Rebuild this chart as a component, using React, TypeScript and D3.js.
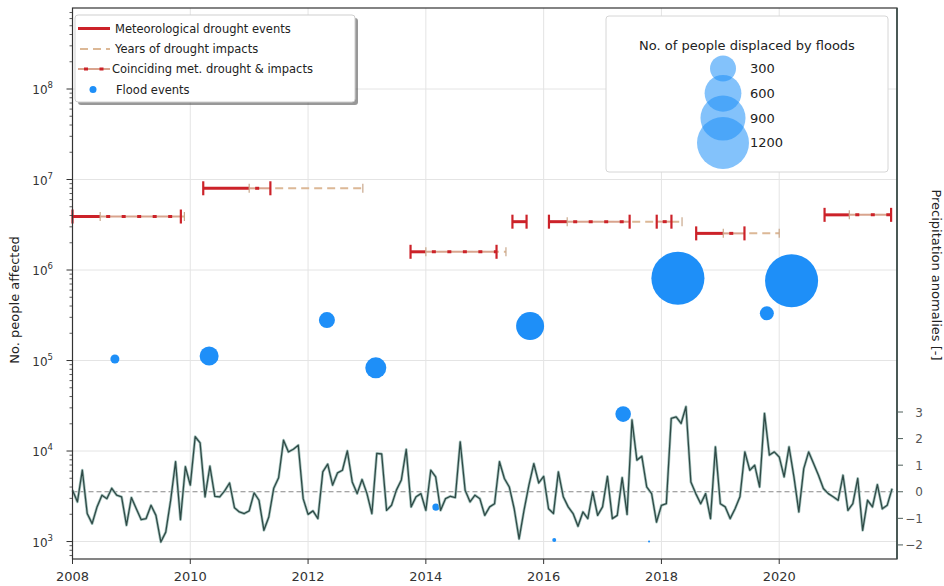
import React from 'react';
import * as d3 from 'd3';

const W = 944;
const H = 586;
const FONT = 'DejaVu Sans, sans-serif';

const RED = '#cc2229';
const TAN = '#dcb896';
const BLUE = '#1e8ff8';

// monthly precipitation anomaly, Jan 2008 .. Dec 2021
const precipStartYear = 2008;
const precipAnomaly = [
  0.06, -0.38, 0.81, -0.82, -1.2, -0.57, -0.13, -0.26, 0.13, -0.13, -0.19, -1.26,
  -0.22, -0.64, -1.05, -1.01, -0.51, -0.89, -1.89, -1.52, -0.32, 1.13, -1.05, 0.94,
  0.25, 2.07, 1.84, -0.19, 0.96, -0.17, -0.19, 0.03, 0.33, -0.6, -0.76, -0.82,
  -0.72, -0.04, -0.32, -1.45, -0.95, 0.13, 0.53, 1.94, 1.5, 1.6, 1.75, -0.26,
  -0.85, -0.72, -1.01, 0.75, 1.04, 0.25, 0.71, 0.81, 1.54, 0.37, -0.07, 0.46,
  -0.07, -0.82, 1.44, 1.42, -0.7, -0.51, 0.06, 0.44, 1.59, -0.57, -0.19, -0.07,
  -0.7, 0.81, 0.56, -0.7, -0.26, -0.17, -0.22, 1.88, 0.06, -0.38, -0.13, -0.26,
  -0.89, -0.57, -0.45, 1.13, 0.5, 0.18, -0.64, -1.77, -0.7, 0.25, 1.06, 0.33,
  0.58, -0.64, -0.82, 0.75, -0.19, -0.57, -0.82, -1.3, -0.76, -1.01, 0.0, -0.89,
  -0.57, 0.58, -1.01, -0.89, 0.53, -0.85, 2.7, 1.19, 1.34, 0.18, -0.07, -1.14,
  -0.51, -0.45, 2.76, 2.82, 2.57, 3.2, 0.37, -0.07, -0.45, -0.07, -1.01, 1.69,
  -0.45, -0.57, -1.01, -0.64, -0.19, 1.5, 0.81, 1.0, 0.18, 2.95, 1.38, 1.5,
  1.31, 0.56, 1.69, 0.56, -0.76, 0.87, 1.5, 1.06, 0.62, 0.12, -0.07, -0.19,
  -0.32, 0.62, -0.7, -0.45, 0.5, -1.45, -0.32, -0.57, 0.27, -0.64, -0.51, 0.12,
];

// flood events
const floodYear = [2008.72, 2010.32, 2012.32, 2013.15, 2014.17, 2015.77, 2016.18, 2017.35, 2017.79, 2018.28, 2019.79, 2020.21];
const floodAffected = [1.04e5, 1.12e5, 2.8e5, 8.3e4, 2.4e3, 2.4e5, 1.04e3, 2.56e4, 1.0e3, 8.1e5, 3.32e5, 7.6e5];
const floodDisplaced = [36, 160, 114, 196, 22, 348, 7, 108, 2, 1250, 87, 1250];

// meteorological drought events
const metLevel = [3.9e6, 8.0e6, 1.59e6, 3.42e6, 3.42e6, 3.42e6, 2.54e6, 4.07e6];
const metStart = [2008.0, 2010.22, 2013.74, 2015.47, 2016.09, 2017.92, 2018.59, 2020.77];
const metEnd = [2009.84, 2011.36, 2015.2, 2015.71, 2017.46, 2018.17, 2019.41, 2021.9];

// years of drought impacts
const impactLevel = [3.9e6, 8.0e6, 1.59e6, 3.42e6, 2.54e6, 4.07e6];
const impactStart = [2008.47, 2011.0, 2014.0, 2016.4, 2019.05, 2021.19];
const impactEnd = [2009.9, 2012.93, 2015.36, 2018.35, 2020.0, 2021.9];

const xTickYears = [2008, 2010, 2012, 2014, 2016, 2018, 2020];
const precipTicks = [-2, -1, 0, 1, 2, 3];
const sizeLegend = [300, 600, 900, 1200];

export default function App() {
  const top = 8;
  const bottom = 559;
  const x = d3.scaleLinear().domain([2008, 2022]).range([72.5, 897]);
  const y = d3.scaleLog().domain([Math.pow(10, 2.807), Math.pow(10, 8.895)]).range([bottom, top]);
  const yP = d3.scaleLinear().domain([-2.53, 18.2]).range([bottom, top]);
  const r = d3.scaleSqrt().domain([0, 1200]).range([0, 26]);
  const [x0, x1] = x.range();

  const logTicks = y.ticks().filter(v => y(v) <= bottom && y(v) >= top);
  const isMajor = (v: number) => Math.abs(Math.log10(v) - Math.round(Math.log10(v))) < 1e-6;
  const majors = logTicks.filter(isMajor);
  const minors = logTicks.filter(v => !isMajor(v));

  const precipLine = d3.line<number>()
    .x((_, i) => x(precipStartYear + i / 12))
    .y(v => yP(v));
  const pathD = precipLine(precipAnomaly) || '';

  // overlap of met drought with impact years at same level
  const overlaps = metStart.map((s, i) => {
    const e = metEnd[i];
    const j = impactLevel.findIndex((lv, k) => lv === metLevel[i] && impactStart[k] < e && impactEnd[k] > s);
    if (j < 0) return null;
    return [Math.max(s, impactStart[j]), Math.min(e, impactEnd[j])];
  });

  const coincide = (xa: number, xb: number, yy: number, key: string) => (
    <g key={key}>
      <line x1={xa} x2={xb} y1={yy} y2={yy} stroke="#d9a48e" strokeWidth={2} />
      <line x1={xa} x2={xb} y1={yy} y2={yy} stroke={RED} strokeWidth={3} strokeDasharray="4,11.5" strokeDashoffset={-6} />
    </g>
  );

  return (
    <svg width={W} height={H} style={{ position: 'absolute', left: 0, top: 0, background: '#fff' }} fontFamily={FONT}>
      <rect x={0} y={0} width={W} height={H} fill="#fff" />
      {/* grid */}
      <g stroke="#e4e4e4" strokeWidth={1}>
        {xTickYears.slice(1).map(t => (
          <line key={t} x1={x(t)} x2={x(t)} y1={top} y2={bottom} />
        ))}
        {majors.map(v => (
          <line key={v} x1={x0} x2={x1} y1={y(v)} y2={y(v)} />
        ))}
      </g>

      {/* drought impacts */}
      {impactLevel.map((lv, i) => (
        <g key={'imp' + i} stroke={TAN}>
          <line x1={x(impactStart[i])} x2={x(impactEnd[i])} y1={y(lv)} y2={y(lv)} strokeWidth={2} strokeDasharray="8,5" />
        </g>
      ))}

      {/* met drought */}
      {metLevel.map((lv, i) => {
        const yy = y(lv);
        const ov = overlaps[i];
        const segs = ov ? [[metStart[i], ov[0]], [ov[1], metEnd[i]]] : [[metStart[i], metEnd[i]]];
        return (
          <g key={'met' + i}>
            <line x1={x(metStart[i])} x2={x(metEnd[i])} y1={yy} y2={yy} stroke="#fff" strokeWidth={3} />
            {segs.filter(s => s[1] > s[0]).map((s, k) => (
              <line key={k} x1={x(s[0])} x2={x(s[1])} y1={yy} y2={yy} stroke={RED} strokeWidth={3} />
            ))}
            {ov && coincide(x(ov[0]), x(ov[1]), yy, 'c' + i)}
          </g>
        );
      })}

      {/* caps */}
      {impactLevel.map((lv, i) => (
        <g key={'ic' + i} stroke="#c9a88c" strokeWidth={1.2}>
          <line x1={x(impactStart[i])} x2={x(impactStart[i])} y1={y(lv) - 4.5} y2={y(lv) + 4.5} />
          <line x1={x(impactEnd[i])} x2={x(impactEnd[i])} y1={y(lv) - 4.5} y2={y(lv) + 4.5} />
        </g>
      ))}
      {metLevel.map((lv, i) => (
        <g key={'mc' + i} stroke={RED} strokeWidth={2.2}>
          <line x1={x(metStart[i])} x2={x(metStart[i])} y1={y(lv) - 7} y2={y(lv) + 7} />
          <line x1={x(metEnd[i])} x2={x(metEnd[i])} y1={y(lv) - 7} y2={y(lv) + 7} />
        </g>
      ))}

      {/* floods */}
      {floodYear.map((t, i) => (
        <circle key={'f' + i} cx={x(t)} cy={y(floodAffected[i])} r={Math.max(1, r(floodDisplaced[i]))} fill={BLUE} />
      ))}

      {/* precipitation anomalies */}
      <line x1={x0} x2={x1} y1={yP(0)} y2={yP(0)} stroke="#888" strokeWidth={1.2} strokeDasharray="5,3" />
      <path d={pathD} fill="none" stroke="#a9c6c1" strokeWidth={2.8} strokeLinejoin="round" />
      <path d={pathD} fill="none" stroke="#2f4a46" strokeWidth={1.3} strokeLinejoin="round" />

      {/* spines */}
      <rect x={x0} y={top} width={x1 - x0} height={bottom - top} fill="none" stroke="#333" strokeWidth={1.2} />
      <line x1={x1} x2={x1} y1={top} y2={bottom} stroke="#3d4f4b" strokeWidth={1.6} />

      {/* x axis */}
      {xTickYears.map(t => (
        <g key={'xt' + t}>
          <line x1={x(t)} x2={x(t)} y1={bottom} y2={bottom + 5} stroke="#333" />
          <text x={x(t)} y={581} fontSize={13} textAnchor="middle" fill="#333">{t}</text>
        </g>
      ))}

      {/* left log axis */}
      {minors.map(v => (
        <line key={'mn' + v} x1={x0 - 3} x2={x0} y1={y(v)} y2={y(v)} stroke="#333" strokeWidth={0.8} />
      ))}
      {majors.map(v => (
        <g key={'mj' + v}>
          <line x1={x0 - 6} x2={x0} y1={y(v)} y2={y(v)} stroke="#333" />
          <text x={53} y={y(v) + 5} fontSize={12} textAnchor="end" fill="#333">
            <tspan>10</tspan>
            <tspan fontSize={8.5} dy={-6}>{Math.round(Math.log10(v))}</tspan>
          </text>
        </g>
      ))}
      <text transform={`translate(19,${300}) rotate(-90)`} fontSize={13} textAnchor="middle" fill="#222">No. people affected</text>

      {/* right precip axis */}
      {precipTicks.map(v => (
        <g key={'pt' + v}>
          <line x1={x1} x2={x1 + 6} y1={yP(v)} y2={yP(v)} stroke="#4f5f5b" />
          <text x={923} y={yP(v) + 4.5} fontSize={12} textAnchor="end" fill="#555">{v < 0 ? '\u2212' + Math.abs(v) : v}</text>
        </g>
      ))}
      <text transform={`translate(932,${275}) rotate(90)`} fontSize={13} textAnchor="middle" fill="#222">Precipitation anomalies [-]</text>

      {/* legend: events */}
      <rect x={78} y={18} width={280} height={87} rx={3} fill="#444" opacity={0.55} />
      <rect x={75} y={15} width={280} height={87} rx={3} fill="#fff" stroke="#cfcfcf" />
      <g fontSize={11.5} fill="#222">
        <line x1={78} x2={110} y1={28.5} y2={28.5} stroke={RED} strokeWidth={3} />
        <text x={115} y={32.5}>Meteorological drought events</text>
        <line x1={78} x2={110} y1={49} y2={49} stroke={TAN} strokeWidth={2} strokeDasharray="8,5" strokeDashoffset={-2} />
        <text x={115} y={53}>Years of drought impacts</text>
        {coincide(78, 110, 69, 'lg')}
        <text x={112} y={73}>Coinciding met. drought &amp; impacts</text>
        <circle cx={93} cy={89.5} r={3.5} fill={BLUE} />
        <text x={116} y={93.5}>Flood events</text>
      </g>

      {/* legend: sizes */}
      <rect x={606} y={16} width={282} height={156} rx={3} fill="#fff" stroke="#d6d6d6" />
      <text x={747} y={49.5} fontSize={13} textAnchor="middle" fill="#222">No. of people displaced by floods</text>
      {sizeLegend.map((s, i) => {
        const cy = 68.5 + i * 24.8;
        return (
          <g key={'sl' + s}>
            <circle cx={723} cy={cy} r={r(s)} fill={BLUE} opacity={0.55} />
            <text x={750} y={cy + 4.5} fontSize={13} fill="#222">{s}</text>
          </g>
        );
      })}
    </svg>
  );
}
